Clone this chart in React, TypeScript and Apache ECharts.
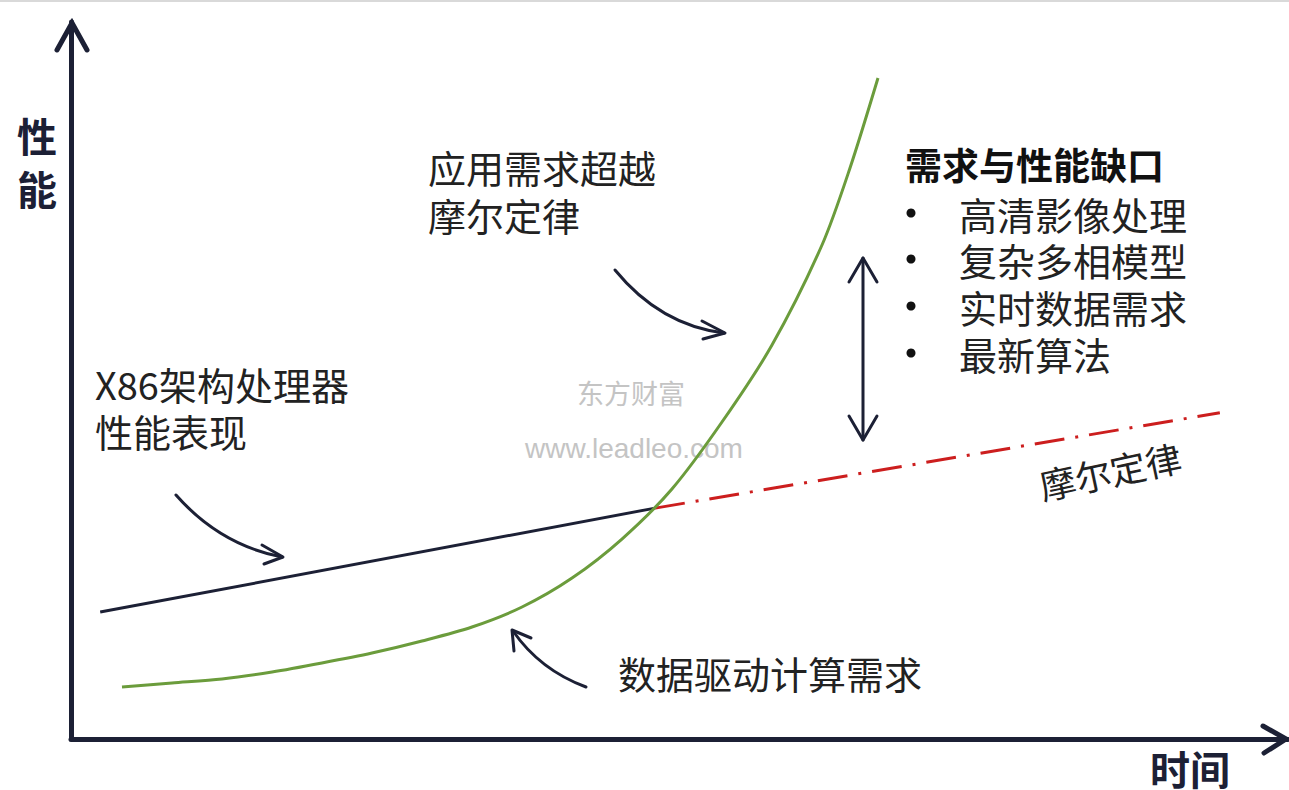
import React, { useEffect, useRef } from "react";
import * as echarts from "echarts";

// Conceptual data (time 0-100, performance 0-100)
const x86Perf: number[][] = [
  [2.4, 17.7],
  [48.0, 32.2],
];
const mooreLaw: number[][] = [
  [48.0, 32.2],
  [94.4, 45.5],
];
const dataDemand: number[][] = [
  [4.19, 7.25],
  [8.3, 7.81],
  [12.41, 8.37],
  [16.52, 9.34],
  [20.62, 10.6],
  [24.73, 11.99],
  [28.84, 13.67],
  [32.95, 15.62],
  [37.06, 18.41],
  [41.17, 22.45],
  [45.27, 27.89],
  [49.38, 34.87],
  [53.49, 44.21],
  [57.6, 54.95],
  [61.71, 68.9],
  [64.01, 79.64],
  [66.31, 92.19],
];
const axisNames = ["时间", "性能"];
const gapTitle = "需求与性能缺口";
const gapItems = ["高清影像处理", "复杂多相模型", "实时数据需求", "最新算法"];
const labelX86 = ["X86架构处理器", "性能表现"];
const labelDemand = ["应用需求超越", "摩尔定律"];
const labelData = "数据驱动计算需求";
const labelMoore = "摩尔定律";
const watermark = ["东方财富", "www.leadleo.com"];

const NAVY = "#1c2035";
const FONT = "'Noto Sans CJK SC', 'Noto Sans', sans-serif";

export default function App() {
  const ref = useRef<HTMLDivElement>(null);
  useEffect(() => {
    if (!ref.current) return;
    const chart = echarts.init(ref.current, undefined, { renderer: "svg" });

    const txt = (x: number, y: number, text: string, extra: any = {}) => ({
      type: "text",
      x,
      y,
      style: {
        text,
        fill: "#222",
        font: `38px ${FONT}`,
        lineHeight: 38,
        textAlign: "left",
        textVerticalAlign: "middle",
        ...(extra.style || {}),
      },
      ...(extra.rest || {}),
    });
    const arrowStroke = { stroke: NAVY, lineWidth: 3, fill: "none", lineCap: "round", lineJoin: "round" };

    const graphics: any[] = [
      // top thin gray line
      { type: "rect", shape: { x: 0, y: 0, width: 1289, height: 2 }, style: { fill: "#d9d9d9" } },
      // axis arrowheads
      { type: "polyline", shape: { points: [[57, 50], [72, 23], [87, 50]] }, style: { stroke: NAVY, lineWidth: 5, fill: "none", lineCap: "round", lineJoin: "miter" } },
      { type: "polyline", shape: { points: [[1263, 726], [1286, 739], [1264, 753]] }, style: { stroke: NAVY, lineWidth: 5, fill: "none", lineCap: "round", lineJoin: "miter" } },
      // axis names
      txt(37, 135, axisNames[1][0], { style: { font: `bold 40px ${FONT}`, lineHeight: 40, textAlign: "center", fill: NAVY } }),
      txt(37, 188, axisNames[1][1], { style: { font: `bold 40px ${FONT}`, lineHeight: 40, textAlign: "center", fill: NAVY } }),
      txt(1190, 768, axisNames[0], { style: { font: `bold 40px ${FONT}`, lineHeight: 40, textAlign: "center", fill: NAVY } }),
      // annotation texts
      txt(428, 166, labelDemand[0]),
      txt(428, 214, labelDemand[1]),
      txt(95, 383, labelX86[0]),
      txt(95, 430, labelX86[1]),
      txt(618, 672, labelData),
      txt(905, 164, gapTitle, { style: { font: `bold 37px ${FONT}`, fill: "#111" } }),
      ...gapItems.flatMap((it, i) => {
        const y = [213, 259, 306, 353][i];
        return [
          { type: "circle", shape: { cx: 911, cy: y, r: 4.5 }, style: { fill: "#111" } },
          txt(959, y, it),
        ];
      }),
      // rotated Moore's law label
      {
        type: "text",
        x: 1110,
        y: 470,
        rotation: (12 * Math.PI) / 180,
        style: { text: labelMoore, fill: "#222", font: `36px ${FONT}`, lineHeight: 36, textAlign: "center", textVerticalAlign: "middle" },
      },
      // watermark
      txt(631, 392, watermark[0], { style: { font: `27px ${FONT}`, lineHeight: 27, fill: "#c4c4c4", textAlign: "center" } }),
      txt(634, 448, watermark[1], { style: { font: `28px 'Liberation Sans', Arial, sans-serif`, lineHeight: 28, fill: "#c4c4c4", textAlign: "center" } }),
      // curved arrow: demand exceeding Moore's law
      { type: "bezierCurve", shape: { x1: 615, y1: 270, x2: 724, y2: 333, cpx1: 660, cpy1: 325 }, style: arrowStroke },
      { type: "polyline", shape: { points: [[702, 321], [725, 333], [703, 339]] }, style: arrowStroke },
      // curved arrow: x86
      { type: "bezierCurve", shape: { x1: 176, y1: 495, x2: 282, y2: 557, cpx1: 220, cpy1: 545 }, style: arrowStroke },
      { type: "polyline", shape: { points: [[262, 545], [283, 557], [264, 564]] }, style: arrowStroke },
      // curved arrow: data driven demand
      { type: "bezierCurve", shape: { x1: 586, y1: 687, x2: 513, y2: 631, cpx1: 540, cpy1: 670 }, style: arrowStroke },
      { type: "polyline", shape: { points: [[514, 651], [512, 630], [531, 638]] }, style: arrowStroke },
      // double arrow (gap)
      { type: "line", shape: { x1: 863, y1: 258, x2: 863, y2: 440 }, style: arrowStroke },
      { type: "polyline", shape: { points: [[849, 282], [863, 258], [877, 282]] }, style: arrowStroke },
      { type: "polyline", shape: { points: [[849, 416], [863, 440], [877, 416]] }, style: arrowStroke },
    ];

    chart.setOption({
      animation: false,
      backgroundColor: "#ffffff",
      grid: { left: 71, right: 1, top: 22, bottom: 51, containLabel: false },
      xAxis: {
        type: "value",
        min: 0,
        max: 100,
        axisLine: { show: true, onZero: false, lineStyle: { color: NAVY, width: 5 } },
        axisTick: { show: false },
        axisLabel: { show: false },
        splitLine: { show: false },
      },
      yAxis: {
        type: "value",
        min: 0,
        max: 100,
        axisLine: { show: true, onZero: false, lineStyle: { color: NAVY, width: 5 } },
        axisTick: { show: false },
        axisLabel: { show: false },
        splitLine: { show: false },
      },
      series: [
        {
          type: "line",
          data: dataDemand,
          smooth: 0.3,
          symbol: "none",
          lineStyle: { color: "#6b9c3c", width: 3 },
          z: 3,
        },
        {
          type: "line",
          data: x86Perf,
          symbol: "none",
          lineStyle: { color: NAVY, width: 3 },
          z: 2,
        },
        {
          type: "line",
          data: mooreLaw,
          symbol: "none",
          lineStyle: { color: "#cc1e1e", width: 3, type: [30, 11, 3, 11] },
          z: 2,
        },
      ],
      graphic: graphics,
    });
    return () => chart.dispose();
  }, []);
  return (
    <div
      ref={ref}
      style={{ position: "absolute", left: 0, top: 0, width: 1289, height: 790 }}
    />
  );
}
